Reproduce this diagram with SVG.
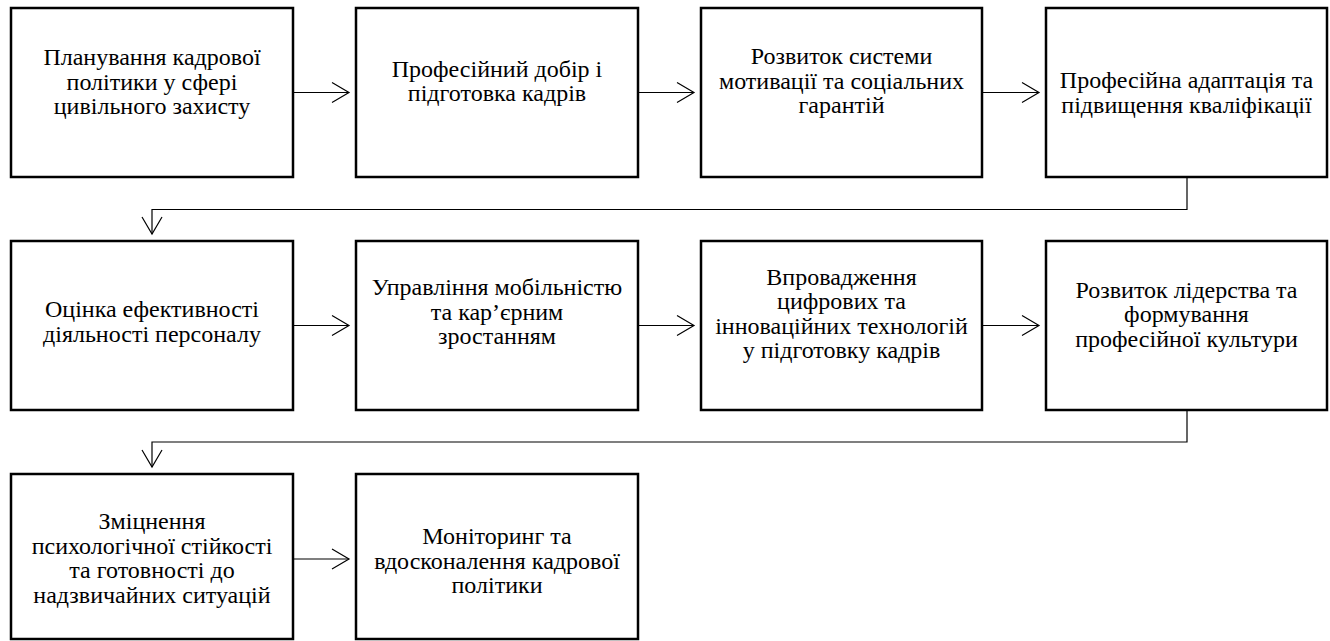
<svg xmlns="http://www.w3.org/2000/svg" width="1330" height="641" viewBox="0 0 1330 641">
<defs>
<style>
.box{fill:#fff;stroke:#000;stroke-width:2.5}
.t{font-family:'Liberation Serif','Times New Roman',serif;font-size:24px;fill:#000;text-anchor:middle}
.c{fill:none;stroke:#000;stroke-width:1.2}
</style>
<marker id="ah" viewBox="0 0 20 24" refX="18" refY="12" markerWidth="20" markerHeight="24" markerUnits="userSpaceOnUse" orient="auto">
<path d="M1,2 L18,12 L1,22" fill="none" stroke="#000" stroke-width="1.2"/>
</marker>
</defs>
<rect width="1330" height="641" fill="#fff"/>
<g id="n1"><rect class="box" x="11" y="8" width="282" height="169"/>
<text class="t"><tspan x="152" y="65">Планування кадрової</tspan><tspan x="152" y="89.5">політики у сфері</tspan><tspan x="152" y="114">цивільного захисту</tspan></text></g>
<g id="n2"><rect class="box" x="356" y="8" width="282" height="169"/>
<text class="t"><tspan x="497" y="76.5">Професійний добір і</tspan><tspan x="497" y="101">підготовка кадрів</tspan></text></g>
<g id="n3"><rect class="box" x="701" y="8" width="281" height="169"/>
<text class="t"><tspan x="841.5" y="64">Розвиток системи</tspan><tspan x="841.5" y="88.5">мотивації та соціальних</tspan><tspan x="841.5" y="113">гарантій</tspan></text></g>
<g id="n4"><rect class="box" x="1046" y="8" width="281" height="169"/>
<text class="t"><tspan x="1186.5" y="88">Професійна адаптація та</tspan><tspan x="1186.5" y="112.5">підвищення кваліфікації</tspan></text></g>
<g id="n5"><rect class="box" x="11" y="241" width="282" height="169"/>
<text class="t"><tspan x="152" y="317">Оцінка ефективності</tspan><tspan x="152" y="341.5">діяльності персоналу</tspan></text></g>
<g id="n6"><rect class="box" x="356" y="241" width="282" height="169"/>
<text class="t"><tspan x="497" y="295">Управління мобільністю</tspan><tspan x="497" y="319.5">та кар’єрним</tspan><tspan x="497" y="344">зростанням</tspan></text></g>
<g id="n7"><rect class="box" x="701" y="241" width="281" height="169"/>
<text class="t"><tspan x="841.5" y="284.5">Впровадження</tspan><tspan x="841.5" y="309">цифрових та</tspan><tspan x="841.5" y="333.5">інноваційних технологій</tspan><tspan x="841.5" y="358">у підготовку кадрів</tspan></text></g>
<g id="n8"><rect class="box" x="1046" y="241" width="281" height="169"/>
<text class="t"><tspan x="1186.5" y="298">Розвиток лідерства та</tspan><tspan x="1186.5" y="322">формування</tspan><tspan x="1186.5" y="346.5">професійної культури</tspan></text></g>
<g id="n9"><rect class="box" x="11" y="474" width="282" height="165"/>
<text class="t"><tspan x="152" y="529">Зміцнення</tspan><tspan x="152" y="553.5">психологічної стійкості</tspan><tspan x="152" y="578">та готовності до</tspan><tspan x="152" y="602.5">надзвичайних ситуацій</tspan></text></g>
<g id="n10"><rect class="box" x="356" y="474" width="282" height="165"/>
<text class="t"><tspan x="497" y="544">Моніторинг та</tspan><tspan x="497" y="568.5">вдосконалення кадрової</tspan><tspan x="497" y="593">політики</tspan></text></g>
<g id="connectors">
<path class="c" marker-end="url(#ah)" d="M293,92.5 H349"/>
<path class="c" marker-end="url(#ah)" d="M638,92.5 H694"/>
<path class="c" marker-end="url(#ah)" d="M982,92.5 H1039"/>
<path class="c" marker-end="url(#ah)" d="M1187,177 V209.5 H152 V234"/>
<path class="c" marker-end="url(#ah)" d="M293,325.5 H349"/>
<path class="c" marker-end="url(#ah)" d="M638,325.5 H694"/>
<path class="c" marker-end="url(#ah)" d="M982,325.5 H1039"/>
<path class="c" marker-end="url(#ah)" d="M1187,410 V442 H152 V467"/>
<path class="c" marker-end="url(#ah)" d="M293,559 H349"/>
</g>
</svg>
